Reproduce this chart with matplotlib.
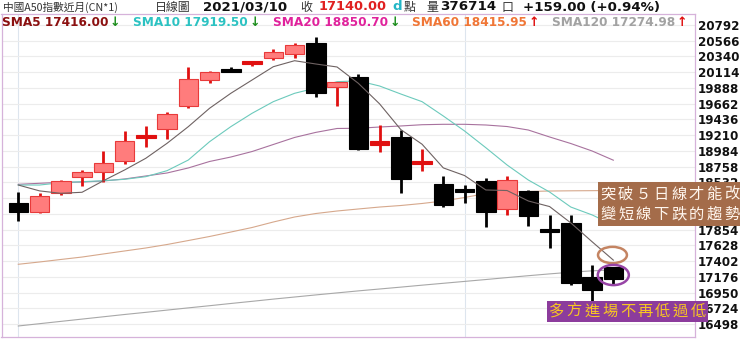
import matplotlib
matplotlib.use("Agg")
import matplotlib.pyplot as plt
from matplotlib.patches import Rectangle, Ellipse
import numpy as np

# ---------------- data ----------------
opens = [18240, 18102, 18375, 18614, 18677, 18843, 19179, 19294, 19633, 19998,
         20160, 20236, 20314, 20371, 20529, 19906, 20041, 19090, 19188, 18806,
         18504, 18423, 18552, 18145, 18408, 17848, 17953, 17169, 17313]
highs = [18390, 18384, 18571, 18710, 18983, 19270, 19342, 19547, 20185, 20136,
         20185, 20270, 20447, 20529, 20615, 19978, 20088, 19356, 19284, 19007,
         18624, 18494, 18591, 18628, 18423, 18064, 18064, 17341, 17320]
lows = [17977, 18095, 18347, 18480, 18542, 18796, 19036, 19151, 19604, 19963,
        20118, 20203, 20289, 20318, 19758, 19629, 19000, 18973, 18384, 18700,
        18174, 18240, 17896, 18064, 17910, 17585, 17058, 16833, 17073]
closes = [18111, 18341, 18552, 18681, 18815, 19126, 19198, 19514, 20021, 20113,
          20121, 20261, 20400, 20505, 19820, 19969, 19007, 19105, 18576, 18820,
          18207, 18404, 18111, 18566, 18054, 17824, 17083, 16981, 17140]

sma5 = [18494, 18410, 18375, 18390, 18555, 18710, 18878, 19093, 19332, 19596,
        19811, 20002, 20193, 20279, 20232, 20189, 19955, 19660, 19290, 19080,
        18740, 18630, 18423, 18415, 18265, 18185, 17950, 17680, 17416]
sma10 = [18494, 18494, 18527, 18542, 18556, 18576, 18614, 18700, 18853, 19116,
         19332, 19524, 19691, 19811, 19887, 19978, 19990, 19916, 19801, 19691,
         19485, 19270, 19030, 18782, 18566, 18394, 18178, 18065, 17919.5]
sma20 = [18504, 18519, 18533, 18537, 18552, 18581, 18624, 18667, 18739, 18832,
         18896, 18975, 19076, 19177, 19250, 19306, 19309, 19327, 19342, 19360,
         19366, 19366, 19356, 19334, 19284, 19184, 19090, 18983, 18850.7]
sma60 = [17356, 17389, 17425, 17460, 17504, 17547, 17590, 17640, 17697, 17755,
         17819, 17884, 17963, 18035, 18085, 18121, 18150, 18178, 18200, 18229,
         18265, 18315, 18372, 18394, 18401, 18408, 18411, 18413, 18415.95]
sma120 = [16470, 16503, 16536, 16569, 16602, 16635, 16666, 16698, 16730, 16761,
          16793, 16824, 16856, 16886, 16916, 16945, 16974, 17001, 17028, 17056,
          17083, 17110, 17137, 17165, 17192, 17218, 17242, 17262, 17274.98]

ytick_values = [20792, 20566, 20340, 20114, 19888, 19662, 19436, 19210, 18984,
                18758, 18532, 18306, 18080, 17854, 17628, 17402, 17176, 16950,
                16724, 16498]
# labels fully covered by the annotation box in the reference
hidden_ticks = [18306, 18080]

sma_names = ["SMA5", "SMA10", "SMA20", "SMA60", "SMA120"]
sma_last = ["17416.00", "17919.50", "18850.70", "18415.95", "17274.98"]
sma_dirs = ["↓", "↓", "↓", "↑", "↑"]

title_name = "中國A50指數近月(CN*1)"
title_kind = "日線圖"
title_date = "2021/03/10"
close_txt = "17140.00"
volume_txt = "376714"
change_txt = "+159.00 (+0.94%)"

note1_lines = ["突破５日線才能改", "變短線下跌的趨勢"]
note2_text = "多方進場不再低過低"

# ---------------- figure ----------------
W, H = 740, 340
fig = plt.figure(figsize=(W / 100, H / 100), dpi=100)
fig.patch.set_facecolor("white")
CJK = ["Noto Sans CJK TC", "DejaVu Sans"]


def fx(px):
    return px / W


def fy(py):
    return 1 - py / H


ax_l, ax_r, ax_t, ax_b = 1.5, 694.5, 13.5, 336.5
ax = fig.add_axes([fx(ax_l), fy(ax_b), (ax_r - ax_l) / W, (ax_b - ax_t) / H])
ax.set_facecolor("white")

n = len(closes)
xs = np.arange(n)
ax.set_xlim(-0.79, 31.82)
ax.set_ylim(16319, 20957)

ax.set_yticks(ytick_values)
ax.set_yticklabels(["" if v in hidden_ticks else str(v) for v in ytick_values])
ax.grid(axis="y", color="#ececec", lw=0.8, zorder=0)
ax.set_axisbelow(True)
for v in (0, 21):
    ax.axvline(v, color="#dde5ee", lw=0.8, zorder=0.5)

ax.yaxis.tick_right()
ax.tick_params(axis="y", length=0, pad=2.5, labelsize=8.6)
for lbl in ax.get_yticklabels():
    lbl.set_fontweight("bold")
    lbl.set_color("#111111")
ax.set_xticks([])
for s in ax.spines.values():
    s.set_color("#d6b2da")
    s.set_linewidth(0.9)

# moving averages
ax.plot(xs, sma120, color="#a8a8a8", lw=0.8, zorder=1)
ax.plot(xs, sma60, color="#d6a88c", lw=0.8, zorder=1)
ax.plot(xs, sma20, color="#a8729e", lw=0.8, zorder=1)
ax.plot(xs, sma10, color="#6ccabc", lw=0.8, zorder=1)

# candles
for i in range(n):
    o, h, l, c = opens[i], highs[i], lows[i], closes[i]
    up = c >= o
    wick = "#e01010" if up else "black"
    ax.vlines(i, l, h, color=wick, lw=2.0, zorder=3)
    bot, ht = min(o, c), abs(c - o)
    if ht < 45:
        mid = (o + c) / 2
        bot, ht = mid - 22, 44
        face = edge = wick
    else:
        face = "#ff7c7c" if up else "black"
        edge = "#e83a3a" if up else "black"
    ax.bar(i, ht, bottom=bot, width=0.92, color=face, edgecolor=edge,
           lw=0.8, zorder=4)

ax.plot(xs, sma5, color="#6e6262", lw=0.8, zorder=5)

# circles
ax.add_patch(Ellipse((27.96, 17489), 1.36, 235, fill=False,
                     edgecolor="#c48462", lw=1.8, zorder=6))
ax.add_patch(Ellipse((28.0, 17202), 1.46, 290, fill=False,
                     edgecolor="#9744a6", lw=1.8, zorder=6))

# ---------------- header texts ----------------
renderer = fig.canvas.get_renderer()


def ftext(px, py, s, **kw):
    kw.setdefault("va", "center")
    kw.setdefault("ha", "left")
    return fig.text(fx(px), fy(py), s, **kw)


y1 = 7
ftext(3, y1, title_name, family=CJK, fontsize=7.7, color="#333333")
ftext(155, y1, title_kind, family=CJK, fontsize=8.6, color="#333333")
ftext(203, y1, title_date, fontsize=9.6, fontweight="bold", color="#111111")
ftext(300, y1, "收", family=CJK, fontsize=8.6, color="#333333")
ftext(319, y1, close_txt, fontsize=9.4, fontweight="bold", color="#e02020")
ftext(392, y1, "d", fontsize=9.6, fontweight="bold", color="#22b6c6")
ftext(404, y1, "點", family=CJK, fontsize=8.6, color="#333333")
ftext(426, y1, "量", family=CJK, fontsize=8.6, color="#333333")
ftext(440, y1, volume_txt, fontsize=9.6, fontweight="bold", color="#111111")
ftext(502, y1, "口", family=CJK, fontsize=8.6, color="#333333")
ftext(523, y1, change_txt, fontsize=9.6, fontweight="bold", color="#111111")

y2 = 23
leg_x = [2, 133, 273, 412, 552]
leg_col = ["#8b1010", "#2cc2c2", "#e0229c", "#f07636", "#a2a2a2"]
for k in range(5):
    t = ftext(leg_x[k], y2, f"{sma_names[k]} {sma_last[k]}", fontsize=8.7,
              fontweight="bold", color=leg_col[k])
    bb = t.get_window_extent(renderer=renderer)
    acol = "#1a8c1a" if sma_dirs[k] == "↓" else "#e01010"
    fig.text(bb.x1 / W + 1.5 / W, fy(y2), sma_dirs[k], fontsize=9,
             fontweight="bold", color=acol, va="center", ha="left")

# ---------------- annotation boxes ----------------
fig.add_artist(Rectangle((fx(598), fy(226)), 142 / W, 44 / H,
                         transform=fig.transFigure, facecolor="#a46c4a",
                         edgecolor="none", zorder=5))
for row, line in enumerate(note1_lines):
    for j, ch in enumerate(line):
        ftext(608 + 17.7 * j, 194 + 20 * row, ch, family=CJK, fontsize=11,
              color="#fff6ee", ha="center", zorder=6)

fig.add_artist(Rectangle((fx(547), fy(321.5)), 161 / W, 20.5 / H,
                         transform=fig.transFigure, facecolor="#8c3c9c",
                         edgecolor="none", zorder=5))
for j, ch in enumerate(note2_text):
    ftext(556.7 + 17.7 * j, 311.5, ch, family=CJK, fontsize=11,
          color="#f8c622", ha="center", zorder=6)

fig.savefig("out.png", dpi=100, facecolor="white")
